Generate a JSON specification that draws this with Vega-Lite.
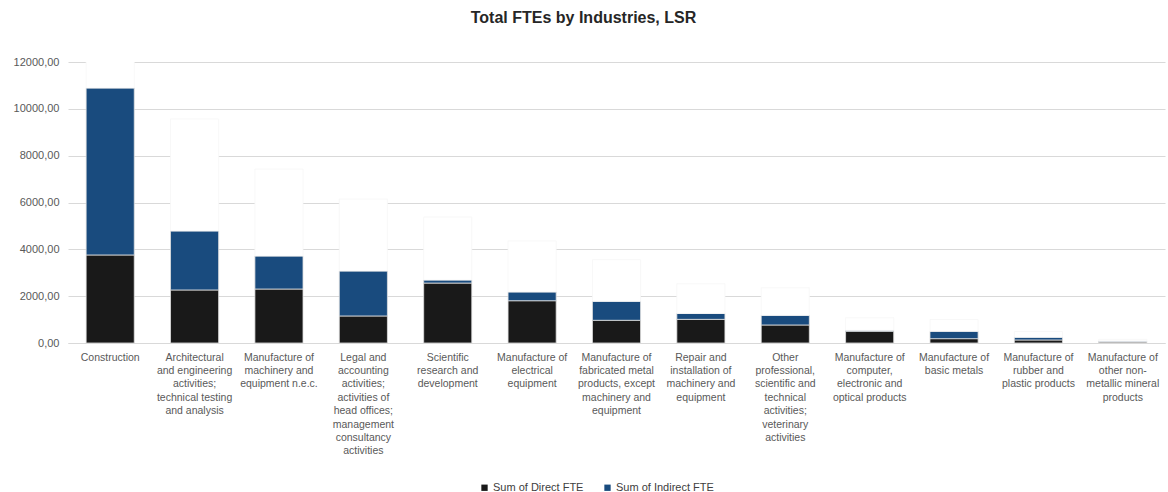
{
  "$schema": "https://vega.github.io/schema/vega-lite/v6.json",
  "width": 1097,
  "height": 281,
  "autosize": {"type": "none"},
  "padding": {"left": 68, "top": 62, "right": 3, "bottom": 149},
  "background": "white",
  "config": {
    "font": "Liberation Sans",
    "view": {"stroke": null}
  },
  "title": {
    "text": "Total FTEs by Industries, LSR",
    "fontSize": 16,
    "fontWeight": "bold",
    "color": "#262626",
    "anchor": "middle",
    "offset": 30,
    "dx": -33
  },
  "data": {
    "values": [
      {"industry": "Construction", "series": "Sum of Direct FTE", "fte": 3760},
      {"industry": "Construction", "series": "Sum of Indirect FTE", "fte": 7130},
      {"industry": "Construction", "series": "Sum of Total FTE", "fte": 10890},
      {"industry": "Architectural and engineering activities; technical testing and analysis", "series": "Sum of Direct FTE", "fte": 2265},
      {"industry": "Architectural and engineering activities; technical testing and analysis", "series": "Sum of Indirect FTE", "fte": 2520},
      {"industry": "Architectural and engineering activities; technical testing and analysis", "series": "Sum of Total FTE", "fte": 4785},
      {"industry": "Manufacture of machinery and equipment n.e.c.", "series": "Sum of Direct FTE", "fte": 2305},
      {"industry": "Manufacture of machinery and equipment n.e.c.", "series": "Sum of Indirect FTE", "fte": 1410},
      {"industry": "Manufacture of machinery and equipment n.e.c.", "series": "Sum of Total FTE", "fte": 3715},
      {"industry": "Legal and accounting activities; activities of head offices; management consultancy activities", "series": "Sum of Direct FTE", "fte": 1155},
      {"industry": "Legal and accounting activities; activities of head offices; management consultancy activities", "series": "Sum of Indirect FTE", "fte": 1920},
      {"industry": "Legal and accounting activities; activities of head offices; management consultancy activities", "series": "Sum of Total FTE", "fte": 3075},
      {"industry": "Scientific research and development", "series": "Sum of Direct FTE", "fte": 2560},
      {"industry": "Scientific research and development", "series": "Sum of Indirect FTE", "fte": 130},
      {"industry": "Scientific research and development", "series": "Sum of Total FTE", "fte": 2690},
      {"industry": "Manufacture of electrical equipment", "series": "Sum of Direct FTE", "fte": 1805},
      {"industry": "Manufacture of electrical equipment", "series": "Sum of Indirect FTE", "fte": 375},
      {"industry": "Manufacture of electrical equipment", "series": "Sum of Total FTE", "fte": 2180},
      {"industry": "Manufacture of fabricated metal products, except machinery and equipment", "series": "Sum of Direct FTE", "fte": 970},
      {"industry": "Manufacture of fabricated metal products, except machinery and equipment", "series": "Sum of Indirect FTE", "fte": 810},
      {"industry": "Manufacture of fabricated metal products, except machinery and equipment", "series": "Sum of Total FTE", "fte": 1780},
      {"industry": "Repair and installation of machinery and equipment", "series": "Sum of Direct FTE", "fte": 1010},
      {"industry": "Repair and installation of machinery and equipment", "series": "Sum of Indirect FTE", "fte": 255},
      {"industry": "Repair and installation of machinery and equipment", "series": "Sum of Total FTE", "fte": 1265},
      {"industry": "Other professional, scientific and technical activities; veterinary activities", "series": "Sum of Direct FTE", "fte": 770},
      {"industry": "Other professional, scientific and technical activities; veterinary activities", "series": "Sum of Indirect FTE", "fte": 410},
      {"industry": "Other professional, scientific and technical activities; veterinary activities", "series": "Sum of Total FTE", "fte": 1180},
      {"industry": "Manufacture of computer, electronic and optical products", "series": "Sum of Direct FTE", "fte": 500},
      {"industry": "Manufacture of computer, electronic and optical products", "series": "Sum of Indirect FTE", "fte": 40},
      {"industry": "Manufacture of computer, electronic and optical products", "series": "Sum of Total FTE", "fte": 540},
      {"industry": "Manufacture of basic metals", "series": "Sum of Direct FTE", "fte": 185},
      {"industry": "Manufacture of basic metals", "series": "Sum of Indirect FTE", "fte": 315},
      {"industry": "Manufacture of basic metals", "series": "Sum of Total FTE", "fte": 500},
      {"industry": "Manufacture of rubber and plastic products", "series": "Sum of Direct FTE", "fte": 130},
      {"industry": "Manufacture of rubber and plastic products", "series": "Sum of Indirect FTE", "fte": 115},
      {"industry": "Manufacture of rubber and plastic products", "series": "Sum of Total FTE", "fte": 245},
      {"industry": "Manufacture of other non-metallic mineral products", "series": "Sum of Direct FTE", "fte": 40},
      {"industry": "Manufacture of other non-metallic mineral products", "series": "Sum of Indirect FTE", "fte": 40},
      {"industry": "Manufacture of other non-metallic mineral products", "series": "Sum of Total FTE", "fte": 80}
    ]
  },
  "mark": {"type": "bar", "clip": true, "strokeWidth": 0.8},
  "encoding": {
    "x": {
      "field": "industry",
      "type": "nominal",
      "sort": null,
      "scale": {"paddingInner": 0.43, "paddingOuter": 0.215},
      "axis": {
        "title": null,
        "labelAngle": 0,
        "labelFontSize": 10.5,
        "labelColor": "#595959",
        "labelLimit": 0,
        "labelPadding": 9,
        "labelLineHeight": 13.4,
        "labelBaseline": "top",
        "ticks": false,
        "domainColor": "#d9d9d9",
        "labelExpr": "{'Construction':['Construction'],'Architectural and engineering activities; technical testing and analysis':['Architectural','and engineering','activities;','technical testing','and analysis'],'Manufacture of machinery and equipment n.e.c.':['Manufacture of','machinery and','equipment n.e.c.'],'Legal and accounting activities; activities of head offices; management consultancy activities':['Legal and','accounting','activities;','activities of','head offices;','management','consultancy','activities'],'Scientific research and development':['Scientific','research and','development'],'Manufacture of electrical equipment':['Manufacture of','electrical','equipment'],'Manufacture of fabricated metal products, except machinery and equipment':['Manufacture of','fabricated metal','products, except','machinery and','equipment'],'Repair and installation of machinery and equipment':['Repair and','installation of','machinery and','equipment'],'Other professional, scientific and technical activities; veterinary activities':['Other','professional,','scientific and','technical','activities;','veterinary','activities'],'Manufacture of computer, electronic and optical products':['Manufacture of','computer,','electronic and','optical products'],'Manufacture of basic metals':['Manufacture of','basic metals'],'Manufacture of rubber and plastic products':['Manufacture of','rubber and','plastic products'],'Manufacture of other non-metallic mineral products':['Manufacture of','other non-','metallic mineral','products']}[datum.value]"
      }
    },
    "y": {
      "field": "fte",
      "type": "quantitative",
      "stack": "zero",
      "scale": {"domain": [0, 12000], "nice": false},
      "axis": {
        "title": null,
        "values": [0, 2000, 4000, 6000, 8000, 10000, 12000],
        "labelExpr": "replace(format(datum.value, '.2f'), '.', ',')",
        "labelFontSize": 11,
        "labelColor": "#595959",
        "labelPadding": 9,
        "ticks": false,
        "domain": false,
        "gridColor": "#d9d9d9",
        "gridWidth": 1
      }
    },
    "color": {
      "field": "series",
      "type": "nominal",
      "scale": {
        "domain": ["Sum of Direct FTE", "Sum of Indirect FTE", "Sum of Total FTE"],
        "range": ["#191919", "#194b7e", "#ffffff"]
      },
      "legend": {
        "title": null,
        "values": ["Sum of Direct FTE", "Sum of Indirect FTE"],
        "orient": "none",
        "direction": "horizontal",
        "legendX": 411,
        "legendY": 420,
        "symbolType": "square",
        "symbolSize": 40,
        "symbolStrokeWidth": 0,
        "labelFontSize": 11,
        "labelColor": "#404040",
        "labelOffset": 3,
        "columnPadding": 18
      }
    },
    "stroke": {
      "field": "series",
      "type": "nominal",
      "scale": {
        "domain": ["Sum of Direct FTE", "Sum of Indirect FTE", "Sum of Total FTE"],
        "range": ["#e0e0e0", "#e0e0e0", "#f6f6f6"]
      },
      "legend": null
    },
    "order": {"field": "series", "sort": "ascending"}
  }
}
